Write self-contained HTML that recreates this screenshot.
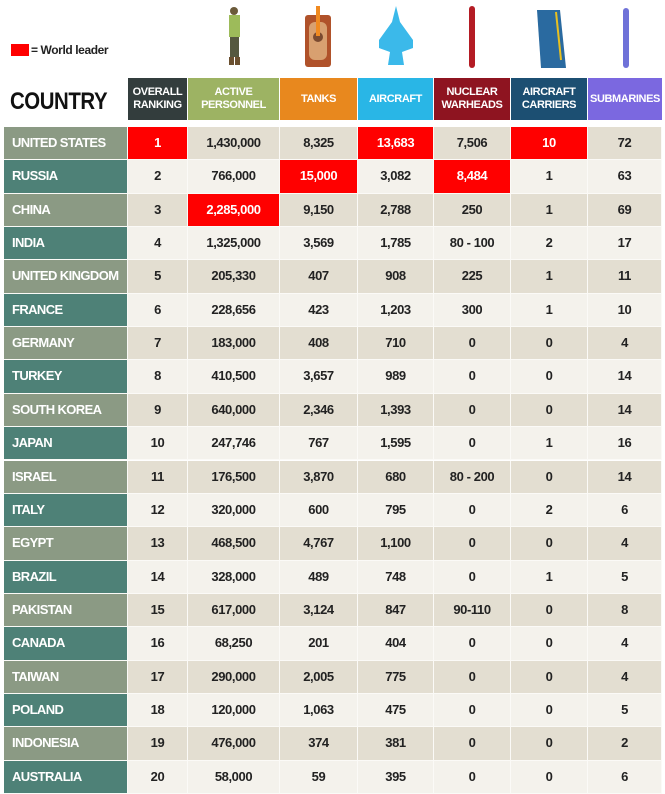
<!DOCTYPE html>
<html><head><meta charset="utf-8"><style>
body{margin:0;width:665px;height:793px;background:#fff;position:relative;overflow:hidden;font-family:"Liberation Sans",sans-serif;}
.a{position:absolute}
.row{position:absolute;left:4px;width:658px;height:33.35px}
.row div{position:absolute;top:0;height:32.35px;line-height:32.35px;text-align:center;font-size:13px;font-weight:bold;color:#222;border-right:1px solid #fbfaf7;border-bottom:1px solid #fbfaf7;white-space:nowrap;letter-spacing:-0.4px}
.row div.c{text-align:left;padding-left:8px;color:#fff;font-size:13px;letter-spacing:-0.6px}
.o div{background:#e3ded1}.e div{background:#f4f2ec}
.o div.c{background:#8b9a84}.e div.c{background:#4e8177}
.row div.r{background:#ff0000;color:#fff}
.h{position:absolute;top:78px;height:42px;color:#fff;font-size:11px;font-weight:bold;text-align:center;display:flex;align-items:center;justify-content:center;line-height:13px;letter-spacing:-0.4px;white-space:nowrap}
</style></head><body>
<div class="a" style="left:11px;top:44px;width:18px;height:12px;background:#f00"></div>
<div class="a" style="left:31px;top:43px;font-size:12px;font-weight:bold;color:#222;letter-spacing:-0.4px">= World leader</div>
<div class="a" style="left:10px;top:88px;font-size:24px;font-weight:bold;color:#111;transform:scaleX(0.85);transform-origin:left;letter-spacing:-0.5px">COUNTRY</div>
<div class="h" style="left:128px;width:59px;background:#333d3d">OVERALL<br>RANKING</div>
<div class="h" style="left:188px;width:91px;background:#9db363">ACTIVE<br>PERSONNEL</div>
<div class="h" style="left:280px;width:77px;background:#e8881e">TANKS</div>
<div class="h" style="left:358px;width:75px;background:#29b6e6">AIRCRAFT</div>
<div class="h" style="left:434px;width:76px;background:#8e1420">NUCLEAR<br>WARHEADS</div>
<div class="h" style="left:511px;width:76px;background:#1c4f72">AIRCRAFT<br>CARRIERS</div>
<div class="h" style="left:588px;width:74px;background:#7b68e0">SUBMARINES</div>
<svg class="a" style="left:0;top:0" width="665" height="76">
<g><circle cx="234" cy="11" r="4" fill="#6b5a3a"/><rect x="229" y="15" width="11" height="22" fill="#9dbb5a"/><rect x="230" y="37" width="9" height="20" fill="#55583f"/><rect x="229" y="57" width="5" height="8" fill="#6b5030"/><rect x="235" y="57" width="5" height="8" fill="#6b5030"/></g>
<g><rect x="305" y="15" width="26" height="52" rx="3" fill="#b0522a"/><rect x="309" y="22" width="18" height="38" rx="6" fill="#d8a070"/><circle cx="318" cy="37" r="5" fill="#7a4a30"/><rect x="316" y="6" width="4" height="30" fill="#f08a20"/></g>
<g><polygon points="396,6 400,22 413,40 413,48 402,52 404,65 388,65 390,52 379,48 379,40 392,22" fill="#3bb9ea"/></g>
<g><rect x="469" y="6" width="6" height="62" rx="3" fill="#b41c24"/></g>
<g><polygon points="537,10 560,10 566,68 541,68" fill="#2a6aa0"/><line x1="556" y1="12" x2="561" y2="60" stroke="#e8c020" stroke-width="2"/></g>
<g><rect x="623" y="8" width="6" height="60" rx="3" fill="#6f72d8"/></g>
</svg>
<div id="t"></div>
<script>
var d=[["UNITED STATES","1","1,430,000","8,325","13,683","7,506","10","72",[1,4,6]],
["RUSSIA","2","766,000","15,000","3,082","8,484","1","63",[3,5]],
["CHINA","3","2,285,000","9,150","2,788","250","1","69",[2]],
["INDIA","4","1,325,000","3,569","1,785","80 - 100","2","17",[]],
["UNITED KINGDOM","5","205,330","407","908","225","1","11",[]],
["FRANCE","6","228,656","423","1,203","300","1","10",[]],
["GERMANY","7","183,000","408","710","0","0","4",[]],
["TURKEY","8","410,500","3,657","989","0","0","14",[]],
["SOUTH KOREA","9","640,000","2,346","1,393","0","0","14",[]],
["JAPAN","10","247,746","767","1,595","0","1","16",[]],
["ISRAEL","11","176,500","3,870","680","80 - 200","0","14",[]],
["ITALY","12","320,000","600","795","0","2","6",[]],
["EGYPT","13","468,500","4,767","1,100","0","0","4",[]],
["BRAZIL","14","328,000","489","748","0","1","5",[]],
["PAKISTAN","15","617,000","3,124","847","90-110","0","8",[]],
["CANADA","16","68,250","201","404","0","0","4",[]],
["TAIWAN","17","290,000","2,005","775","0","0","4",[]],
["POLAND","18","120,000","1,063","475","0","0","5",[]],
["INDONESIA","19","476,000","374","381","0","0","2",[]],
["AUSTRALIA","20","58,000","59","395","0","0","6",[]]];
var xs=[0,124,184,276,354,430,507,584,658],h="";
d.forEach(function(r,i){h+='<div class="row '+(i%2?'e':'o')+'" style="top:'+(127+i*33.35)+'px">';
for(var j=0;j<8;j++){var w=xs[j+1]-xs[j]-1;if(j==0)w-=8;
h+='<div class="'+(j==0?'c':'')+(r[8].indexOf(j)>=0?' r':'')+'" style="left:'+xs[j]+'px;width:'+w+'px">'+r[j]+'</div>';}
h+='</div>';});
document.getElementById('t').innerHTML=h;
</script>
</body></html>
